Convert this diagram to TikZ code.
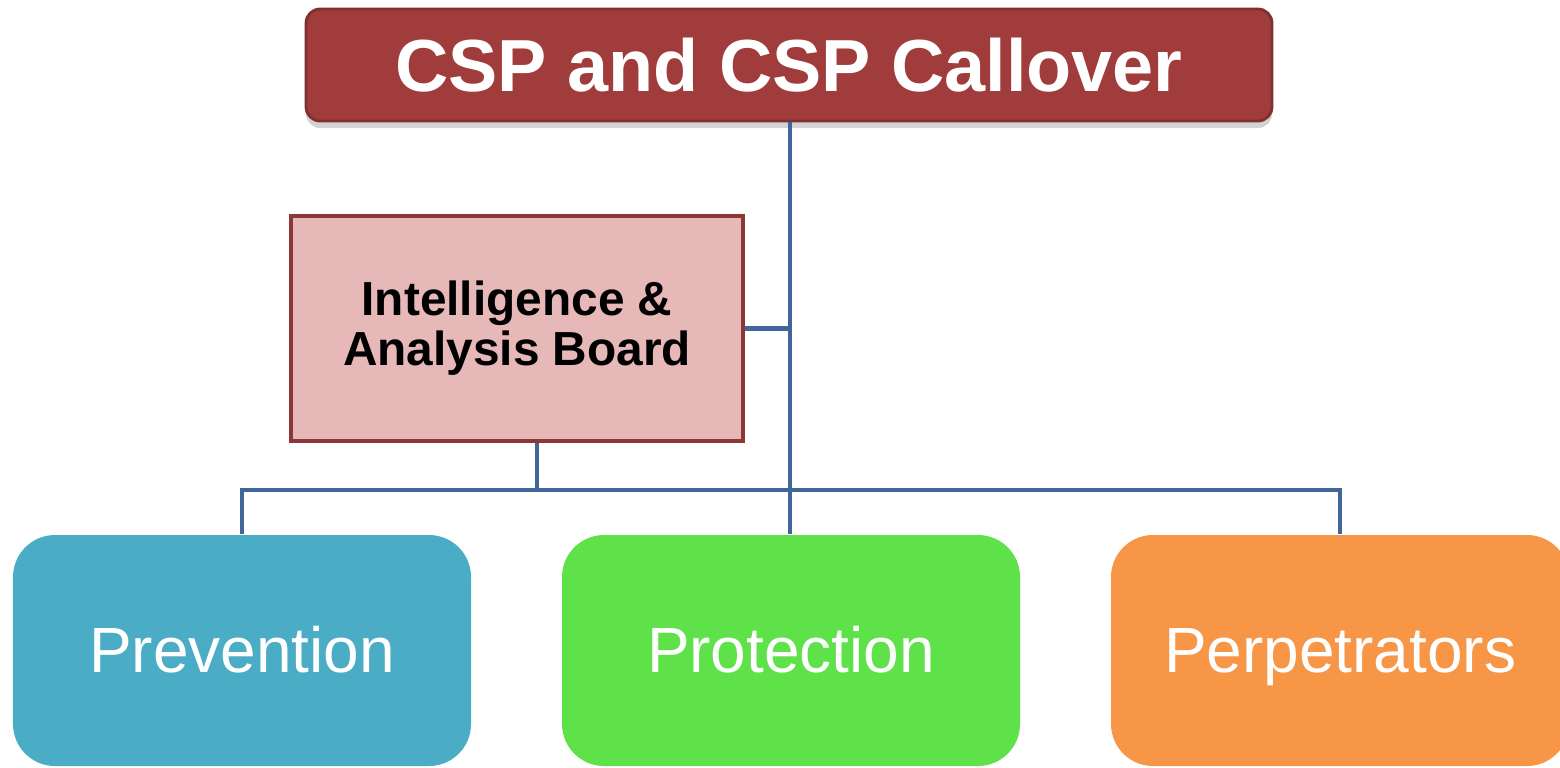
\documentclass[tikz,border=0pt]{standalone}
\usepackage{fontspec}
\setmainfont{Liberation Sans}
\usepackage{tikz}
\usetikzlibrary{positioning,shadows}

\definecolor{titlered}{HTML}{A03C3B}
\definecolor{boardpink}{HTML}{E6B8B7}
\definecolor{boardedge}{HTML}{8C3836}
\definecolor{linkblue}{HTML}{41679A}
\definecolor{prevblue}{HTML}{4BACC6}
\definecolor{protgreen}{HTML}{5FE14A}
\definecolor{perporange}{HTML}{F79646}

\tikzset{
        titlebox/.style={fill=titlered, draw=titlered!80!black, line width=0.8pt, rounded corners=4pt,
                minimum width=9.66cm, minimum height=1.12cm, text=white, font=\fontsize{21}{24}\selectfont\bfseries,
                drop shadow={opacity=0.35, shadow xshift=0pt, shadow yshift=-2pt}},
        boardbox/.style={fill=boardpink, draw=boardedge, line width=1.2pt, minimum width=4.52cm, minimum height=2.25cm,
                align=center, font=\fontsize{13.6}{14.2}\selectfont\bfseries},
        groupbox/.style={minimum width=4.58cm, minimum height=2.31cm, rounded corners=0.42cm, text=white,
                text height=0.55cm, text depth=0.12cm, font=\fontsize{18.2}{20}\selectfont},
        link/.style={draw=linkblue, line width=1.4pt}
}

\begin{document}
\begin{tikzpicture}
        \useasboundingbox (0,0) rectangle (15.6,7.67);
        % top of the tree
        \node[titlebox] (title) at (7.89,7.02) {CSP and CSP Callover};
        \node[boardbox] (board) at (5.17,4.385) {Intelligence \&\\Analysis Board};
        % the three groups
        \node[groupbox, fill=prevblue] (prev) at (2.42,1.165) {Prevention};
        \node[groupbox, fill=protgreen] (prot) at (7.91,1.165) {Protection};
        \node[groupbox, fill=perporange] (perp) at (13.40,1.165) {Perpetrators};
        \coordinate (bus) at (7.9,2.77);

        \draw[link] (title.south -| 7.9,0) -- (prot.north -| 7.9,0);
        \draw[link] (board.east) -- (board.east -| 7.9,0);
        \draw[link] ([xshift=0.2cm]board.south) -- ([xshift=0.2cm]board.south |- bus);
        \draw[link] (prev.north) -- (prev.north |- bus) -- (perp.north |- bus) -- (perp.north);
\end{tikzpicture}
\end{document}
